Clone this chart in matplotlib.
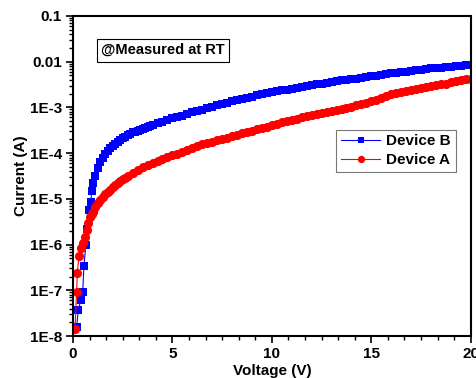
import matplotlib
matplotlib.use("Agg")
import matplotlib.pyplot as plt
from matplotlib.ticker import FixedLocator, LogLocator, NullFormatter, AutoMinorLocator

plt.rcParams['font.family'] = ['Liberation Sans', 'DejaVu Sans']
plt.rcParams['font.weight'] = 'bold'

# low-bias points (sparse)
v_b_low = [0.05, 0.18, 0.27, 0.39, 0.49, 0.55, 0.65, 0.72, 0.80, 0.89]
i_b_low = [1.5e-8, 1.6e-8, 3.7e-8, 6.1e-8, 9.3e-8, 3.4e-7, 1.0e-6, 2.2e-6, 5.6e-6, 8.7e-6]
v_a_low = [0.10, 0.18, 0.22, 0.30, 0.39, 0.52, 0.60, 0.69, 0.77, 0.88]
i_a_low = [1.4e-8, 9.0e-8, 2.4e-7, 5.5e-7, 8.4e-7, 1.1e-6, 1.5e-6, 2.1e-6, 3.0e-6, 4.0e-6]

# extra reads around the knee (1-4 V), where the curves bend fast
v_b_knee = [0.95, 1.1, 1.375, 1.625, 1.875, 2.125, 2.375, 2.625, 2.875, 3.125, 3.375, 3.625, 3.875]
i_b_knee = [1.5e-5, 3.2e-5, 6.4e-5, 9.5e-5, 1.26e-4, 1.6e-4, 1.96e-4, 2.3e-4, 2.64e-4, 2.95e-4, 3.24e-4,
            3.55e-4, 3.89e-4]
v_a_knee = [0.94, 1.125, 1.375, 1.625, 1.875, 2.125, 2.375, 2.625]
i_a_knee = [4.6e-6, 6.5e-6, 9.4e-6, 1.25e-5, 1.58e-5, 1.97e-5, 2.43e-5, 2.92e-5]

# sweep from 1 V to 20 V
v_sweep = [1.0, 1.25, 1.5, 1.75, 2.0, 2.25, 2.5, 2.75, 3.0, 3.25, 3.5, 3.75,
           4.0, 4.25, 4.5, 4.75, 5.0, 5.25, 5.5, 5.75, 6.0, 6.25, 6.5, 6.75,
           7.0, 7.25, 7.5, 7.75, 8.0, 8.25, 8.5, 8.75, 9.0, 9.25, 9.5, 9.75,
           10.0, 10.25, 10.5, 10.75, 11.0, 11.25, 11.5, 11.75, 12.0, 12.25, 12.5, 12.75,
           13.0, 13.25, 13.5, 13.75, 14.0, 14.25, 14.5, 14.75, 15.0, 15.25, 15.5, 15.75,
           16.0, 16.25, 16.5, 16.75, 17.0, 17.25, 17.5, 17.75, 18.0, 18.25, 18.5, 18.75,
           19.0, 19.25, 19.5, 19.75, 20.0]

i_b = [2.2e-5, 4.79e-5, 7.94e-5, 1.10e-4, 1.41e-4, 1.78e-4, 2.14e-4, 2.46e-4, 2.82e-4, 3.09e-4, 3.39e-4, 3.72e-4,
       4.07e-4, 4.47e-4, 4.90e-4, 5.37e-4, 5.75e-4, 6.17e-4, 6.61e-4, 7.08e-4, 7.76e-4, 8.32e-4, 8.91e-4, 9.55e-4,
       1.02e-3, 1.10e-3, 1.18e-3, 1.26e-3, 1.35e-3, 1.45e-3, 1.51e-3, 1.62e-3, 1.70e-3, 1.82e-3, 1.91e-3, 2.04e-3,
       2.14e-3, 2.24e-3, 2.34e-3, 2.45e-3, 2.57e-3, 2.69e-3, 2.82e-3, 2.95e-3, 3.09e-3, 3.16e-3, 3.31e-3, 3.47e-3,
       3.55e-3, 3.72e-3, 3.89e-3, 3.98e-3, 4.17e-3, 4.27e-3, 4.47e-3, 4.57e-3, 4.79e-3, 4.90e-3, 5.13e-3, 5.25e-3,
       5.50e-3, 5.62e-3, 5.89e-3, 6.03e-3, 6.17e-3, 6.46e-3, 6.61e-3, 6.76e-3, 7.08e-3, 7.24e-3, 7.41e-3, 7.59e-3,
       7.76e-3, 7.94e-3, 8.13e-3, 8.32e-3, 8.51e-3]

i_a = [5.25e-6, 7.94e-6, 1.10e-5, 1.41e-5, 1.78e-5, 2.19e-5, 2.69e-5, 3.16e-5, 3.72e-5, 4.27e-5, 4.90e-5, 5.50e-5,
       6.03e-5, 6.61e-5, 7.41e-5, 8.13e-5, 8.91e-5, 9.77e-5, 1.07e-4, 1.18e-4, 1.29e-4, 1.41e-4, 1.55e-4, 1.66e-4,
       1.78e-4, 1.91e-4, 2.04e-4, 2.19e-4, 2.34e-4, 2.51e-4, 2.69e-4, 2.88e-4, 3.09e-4, 3.31e-4, 3.55e-4, 3.80e-4,
       4.07e-4, 4.37e-4, 4.68e-4, 5.01e-4, 5.37e-4, 5.62e-4, 6.03e-4, 6.31e-4, 6.76e-4, 7.08e-4, 7.41e-4, 7.76e-4,
       8.13e-4, 8.71e-4, 9.12e-4, 9.77e-4, 1.02e-3, 1.10e-3, 1.18e-3, 1.26e-3, 1.35e-3, 1.45e-3, 1.58e-3, 1.74e-3,
       1.91e-3, 2.04e-3, 2.19e-3, 2.29e-3, 2.40e-3, 2.51e-3, 2.63e-3, 2.75e-3, 2.88e-3, 3.02e-3, 3.16e-3, 3.31e-3,
       3.55e-3, 3.72e-3, 3.89e-3, 4.07e-3, 4.27e-3]

y_ticks = [1e-8, 1e-7, 1e-6, 1e-5, 1e-4, 1e-3, 1e-2, 1e-1]
y_tick_labels = ['1E-8', '1E-7', '1E-6', '1E-5', '1E-4', '1E-3', '0.01', '0.1']
x_ticks = [0, 5, 10, 15, 20]

# merge the reads of each device into one voltage-ordered series
dev_b = sorted(zip(v_b_low + v_b_knee + v_sweep, i_b_low + i_b_knee + i_b))
dev_a = sorted(zip(v_a_low + v_a_knee + v_sweep, i_a_low + i_a_knee + i_a))

fig = plt.figure(figsize=(4.77, 3.78), dpi=100)
ax = fig.add_axes([0.153, 0.111, 0.834, 0.847])

ax.plot([p[0] for p in dev_b], [p[1] for p in dev_b], color='#0000ff', marker='s', ms=6.0,
        mew=0, lw=0.8, label='Device B')
ax.plot([p[0] for p in dev_a], [p[1] for p in dev_a], color='#ff0000', marker='o', ms=6.6,
        mew=0, lw=0.8, label='Device A')

ax.set_yscale('log')
ax.set_xlim(0, 20)
ax.set_ylim(1e-8, 0.1)

ax.yaxis.set_major_locator(FixedLocator(y_ticks))
ax.set_yticklabels(y_tick_labels)
ax.yaxis.set_minor_locator(LogLocator(base=10, subs=[2, 3, 4, 5, 6, 7, 8, 9], numticks=20))
ax.yaxis.set_minor_formatter(NullFormatter())
ax.set_xticks(x_ticks)
ax.xaxis.set_minor_locator(AutoMinorLocator(6))

ax.tick_params(which='major', direction='out', length=5, width=1.2, labelsize=11, pad=3)
ax.tick_params(which='minor', direction='out', length=3, width=1.0)
for lab in ax.get_xticklabels() + ax.get_yticklabels():
    lab.set_fontweight('bold')
for s in ax.spines.values():
    s.set_linewidth(1.5)

ax.set_xlabel('Voltage (V)', fontsize=11, fontweight='bold', labelpad=2)
ax.set_ylabel('Current (A)', fontsize=11, fontweight='bold', labelpad=1)

ax.text(0.226, 0.893, '@Measured at RT', transform=ax.transAxes, ha='center', va='center',
        fontsize=10.5, fontweight='bold',
        bbox=dict(boxstyle='square,pad=0.3', facecolor='white', edgecolor='black', linewidth=0.8))

leg = ax.legend(loc='upper right', bbox_to_anchor=(0.962, 0.644), fontsize=11,
                frameon=True, fancybox=False, edgecolor='#555555', handlelength=2.6,
                borderpad=0.3, labelspacing=0.3, handletextpad=0.4, borderaxespad=0,
                markerscale=0.8)
leg.get_frame().set_linewidth(0.8)
for t in leg.get_texts():
    t.set_fontweight('bold')

fig.savefig('out.png', dpi=100)
